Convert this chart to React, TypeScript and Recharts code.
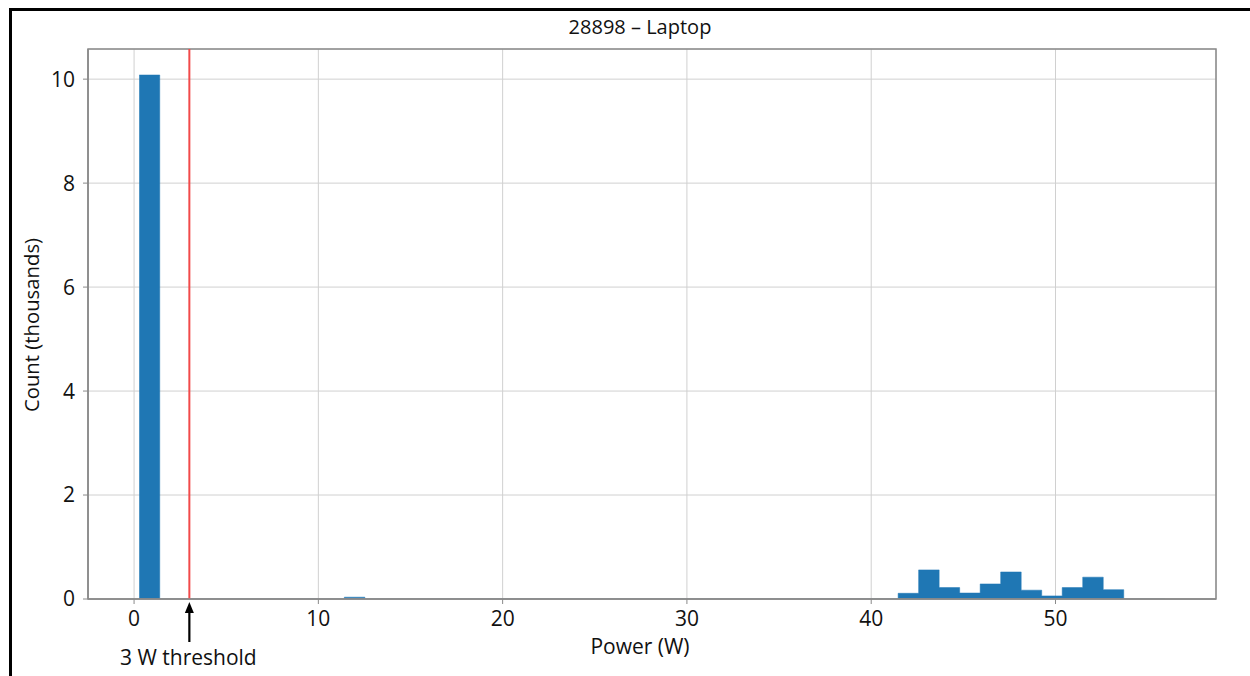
import React from 'react';
import {
  ComposedChart,
  Area,
  XAxis,
  YAxis,
  CartesianGrid,
  ReferenceLine,
  ReferenceArea,
} from 'recharts';

// histogram of power readings, 50 bins
const binStart = 0.28;
const binWidth = 1.113;
const counts = [
  10.08, 0, 0, 0, 0, 0, 0, 0, 0, 0,
  0.035, 0, 0, 0, 0, 0, 0, 0, 0, 0,
  0, 0, 0, 0, 0, 0, 0, 0, 0, 0,
  0, 0, 0, 0, 0, 0, 0, 0.11, 0.56, 0.22,
  0.115, 0.29, 0.52, 0.17, 0.06, 0.22, 0.42, 0.18, 0, 0,
];
const xTicks = [0, 10, 20, 30, 40, 50];
const yTicks = [0, 2, 4, 6, 8, 10];
const xDomain: [number, number] = [-2.5, 58.71];
const yDomain: [number, number] = [0, 10.58];
const threshold = 3;

const FONT = '"Open Sans", "Noto Sans", sans-serif';
const FRAME = '#8a8a8a';

const histData = [
  ...counts.map((c, i) => ({ x: binStart + i * binWidth, count: c })),
  { x: binStart + counts.length * binWidth, count: 0 },
];

function ThresholdLabel(props: any) {
  const vb = props.viewBox;
  if (!vb) return null;
  const x = vb.x;
  const base = vb.y + vb.height;
  return (
    <g>
      <line x1={x} y1={base + 43} x2={x} y2={base + 12} stroke="#000" strokeWidth={2.2} />
      <polygon
        points={`${x},${base + 3} ${x - 4.5},${base + 14} ${x + 4.5},${base + 14}`}
        fill="#000"
      />
      <text
        x={x - 1}
        y={base + 66}
        textAnchor="middle"
        fontFamily={FONT}
        fontSize={21}
        fill="#111"
      >
        3 W threshold
      </text>
    </g>
  );
}

export default function App() {
  return (
    <div
      style={{
        position: 'absolute',
        left: 0,
        top: 0,
        width: 1250,
        height: 676,
        background: '#fff',
        fontFamily: FONT,
        overflow: 'hidden',
      }}
    >
      {/* frame of the pasted figure */}
      <div
        style={{
          position: 'absolute',
          left: 9,
          top: 8,
          width: 1250,
          height: 700,
          borderTop: '3px solid #000',
          borderLeft: '3px solid #000',
        }}
      />
      <div
        style={{
          position: 'absolute',
          left: 0,
          width: 1280,
          top: 13,
          textAlign: 'center',
          fontSize: 20,
          color: '#111',
        }}
      >
        28898 – Laptop
      </div>
      <div
        style={{
          position: 'absolute',
          left: 0,
          width: 1280,
          top: 632,
          textAlign: 'center',
          fontSize: 21,
          color: '#111',
        }}
      >
        Power (W)
      </div>
      <div
        style={{
          position: 'absolute',
          left: 31,
          top: 325,
          transform: 'translate(-50%, -50%) rotate(-90deg)',
          whiteSpace: 'nowrap',
          fontSize: 20.3,
          color: '#111',
        }}
      >
        Count (thousands)
      </div>
      <div style={{ position: 'absolute', left: 0, top: 0 }}>
        <ComposedChart
          width={1250}
          height={676}
          data={histData}
          margin={{ top: 49, right: 34, bottom: 37, left: 28 }}
        >
          <CartesianGrid stroke="#d0d0d0" strokeWidth={1} />
          <XAxis
            dataKey="x"
            type="number"
            domain={xDomain}
            ticks={xTicks}
            allowDataOverflow
            height={40}
            tickSize={5}
            tickMargin={7}
            axisLine={{ stroke: FRAME, strokeWidth: 1.5 }}
            tickLine={{ stroke: FRAME }}
            tick={{ fontSize: 21, fill: '#111', fontFamily: FONT }}
          />
          <YAxis
            type="number"
            domain={yDomain}
            ticks={yTicks}
            allowDataOverflow
            width={60}
            tickSize={5}
            tickMargin={8}
            axisLine={{ stroke: FRAME, strokeWidth: 1.5 }}
            tickLine={{ stroke: FRAME }}
            tick={{ fontSize: 21, fill: '#111', fontFamily: FONT }}
          />
          <Area
            type="stepAfter"
            dataKey="count"
            fill="#1f77b4"
            fillOpacity={1}
            stroke="#1f77b4"
            strokeWidth={0.5}
            isAnimationActive={false}
            dot={false}
            activeDot={false}
          />
          <ReferenceArea
            x1={xDomain[0]}
            x2={xDomain[1]}
            y1={yDomain[0]}
            y2={yDomain[1]}
            fill="none"
            fillOpacity={0}
            stroke={FRAME}
            strokeWidth={1.5}
          />
          <ReferenceLine
            x={threshold}
            stroke="#f24a4a"
            strokeWidth={2}
            label={<ThresholdLabel />}
          />
        </ComposedChart>
      </div>
    </div>
  );
}
